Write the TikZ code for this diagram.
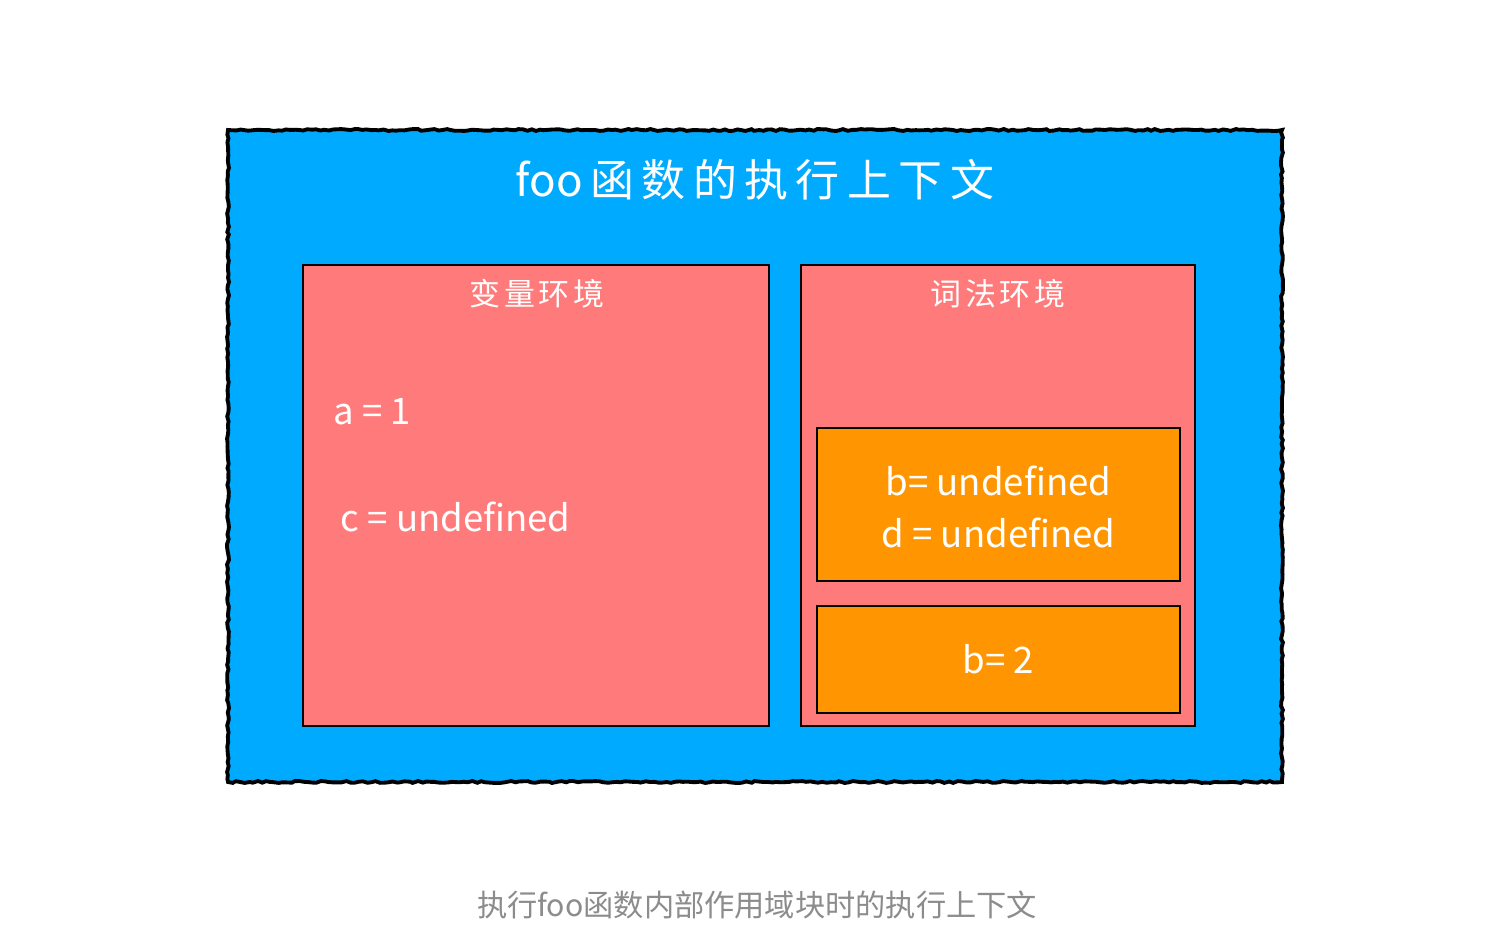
\documentclass[tikz,border=0pt]{standalone}
\usepackage{fontspec}
\setmainfont{Noto Sans CJK SC}
\newfontfamily\titlefont[LetterSpace=17]{Noto Sans CJK SC}
\newfontfamily\subfont[LetterSpace=12]{Noto Sans CJK SC}
\usetikzlibrary{decorations.pathmorphing}
\definecolor{skyblue}{RGB}{0,171,255}
\definecolor{pinkbox}{RGB}{255,123,123}
\definecolor{orangebox}{RGB}{255,149,0}
\definecolor{captiongrey}{RGB}{140,140,140}
\tikzset{
  outerbox/.style={fill=skyblue, draw=black, line width=1.1pt, inner sep=0pt,
    decorate, decoration={random steps, segment length=1.2pt, amplitude=0.28pt}},
  envbox/.style={fill=pinkbox, draw=black, line width=0.8pt, inner sep=0pt},
  recbox/.style={fill=orangebox, draw=black, line width=0.8pt, inner sep=0pt},
  whitetext/.style={text=white, inner sep=0pt, font=\fontsize{10.4pt}{15pt}\selectfont},
}
\begin{document}
\begin{tikzpicture}
\useasboundingbox[fill=white] (0,0) rectangle (15,-9.27);
% outer context box
\node[outerbox, minimum width=10.54cm, minimum height=6.52cm] (ctx) at (7.55,-4.56) {};
\node[text=white, inner sep=0pt, font=\fontsize{12.5pt}{15pt}\selectfont] (ctxtitle) at (7.55,-1.80) {foo\,{\titlefont 函数的执行上下文}};
% variable environment
\node[envbox, minimum width=4.66cm, minimum height=4.61cm] (varenv) at (5.36,-4.955) {};
\node[text=white, inner sep=0pt, font=\subfont\fontsize{8.8pt}{10pt}\selectfont] (varenvtitle) at (5.37,-2.94) {变量环境};
\node[whitetext, anchor=west] (vara) at (3.33,-4.12) {a = 1};
\node[whitetext, anchor=west] (varc) at (3.40,-5.17) {c = undefined};
% lexical environment
\node[envbox, minimum width=3.94cm, minimum height=4.61cm] (lexenv) at (9.98,-4.955) {};
\node[text=white, inner sep=0pt, font=\subfont\fontsize{8.8pt}{10pt}\selectfont] (lexenvtitle) at (9.98,-2.94) {词法环境};
\node[recbox, minimum width=3.63cm, minimum height=1.53cm] (block1) at (9.985,-5.045) {};
\node[whitetext] (b1text) at (9.985,-5.11) {\begin{tabular}{@{}c@{}}b= undefined\\[-0.2pt] d = undefined\end{tabular}};
\node[recbox, minimum width=3.63cm, minimum height=1.07cm] (block2) at (9.985,-6.595) {};
\node[whitetext] (b2text) at (block2.center) {b= 2};
% caption
\node[text=captiongrey, inner sep=0pt, font=\fontsize{8.6pt}{11pt}\selectfont] (caption) at (7.57,-9.05) {执行foo函数内部作用域块时的执行上下文};
\end{tikzpicture}
\end{document}
